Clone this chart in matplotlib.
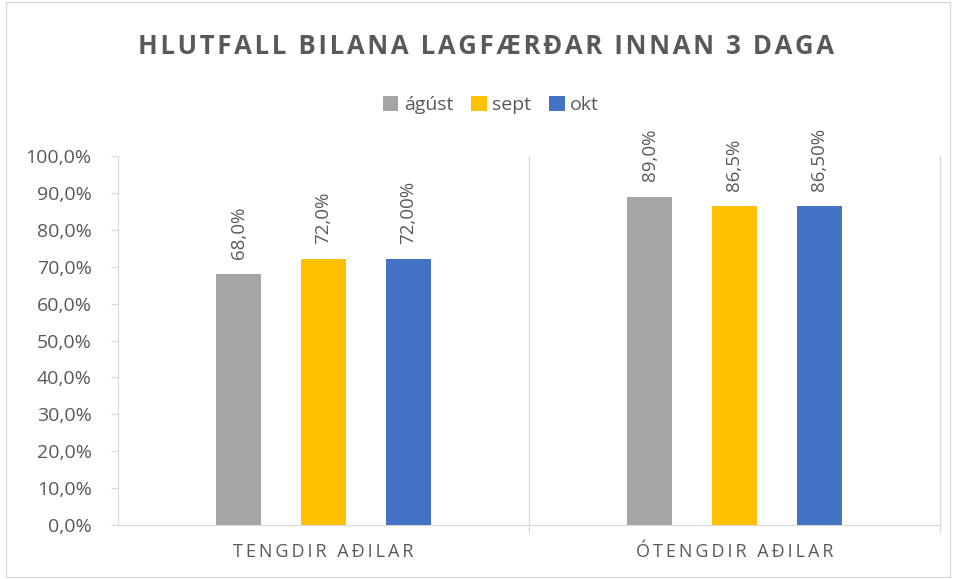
import matplotlib
matplotlib.use("Agg")
import matplotlib.pyplot as plt
from matplotlib.patches import Rectangle
import numpy as np

# data
categories = ["TENGDIR AÐILAR", "ÓTENGDIR AÐILAR"]
series = ["ágúst", "sept", "okt"]
agust = [68.0, 89.0]
sept = [72.0, 86.5]
okt = [72.0, 86.5]
value_labels = [["68,0%", "89,0%"], ["72,0%", "86,5%"], ["72,00%", "86,50%"]]
yticks = [0, 10, 20, 30, 40, 50, 60, 70, 80, 90, 100]
ytick_labels = ["0,0%", "10,0%", "20,0%", "30,0%", "40,0%", "50,0%",
                "60,0%", "70,0%", "80,0%", "90,0%", "100,0%"]

COLORS = ["#A5A5A5", "#FFC000", "#4472C4"]
TXT = "#595959"
LINE = "#D9D9D9"
FONT = ["Open Sans", "DejaVu Sans"]

def spaced(s, sep="\u200a"):
    return sep.join(s)

fig = plt.figure(figsize=(9.57, 5.79), dpi=100)
fig.patch.set_facecolor("white")
ax = fig.add_axes([118/957, 1-525/579, (940-118)/957, (525-156)/579])

x = np.arange(len(categories))
w = 0.11
step = 0.206
for i, (vals, col) in enumerate(zip([agust, sept, okt], COLORS)):
    bars = ax.bar(x + (i-1)*step, vals, width=w, color=col, label=series[i], zorder=3)
    for b, lab in zip(bars, value_labels[i]):
        ax.annotate(lab, (b.get_x() + b.get_width()/2, b.get_height()),
                    xytext=(0, 11), textcoords="offset points",
                    rotation=90, ha="center", va="bottom",
                    fontsize=13.5, color=TXT, family=FONT)

ax.set_xlim(-0.5, 1.5)
ax.set_ylim(0, 100)
ax.set_yticks(yticks)
ax.set_yticklabels(ytick_labels, fontsize=14, color=TXT, family=FONT)
ax.tick_params(axis="y", length=5, color=LINE, pad=14)
ax.set_xticks([0.5, 1.5], minor=False)
ax.set_xticklabels([])
ax.tick_params(axis="x", length=6, color=LINE)
for k in x:
    ax.text(k, -5.0, spaced(categories[k], "\u2009"), ha="center", va="top",
            fontsize=13, color=TXT, family=FONT)

for s in ["top", "right"]:
    ax.spines[s].set_visible(False)
ax.spines["left"].set_color(LINE)
ax.spines["bottom"].set_color(LINE)
ax.axvline(0.5, color=LINE, lw=1, zorder=1)
ax.axvline(1.5, color=LINE, lw=1, zorder=1, clip_on=False)

# title and legend
fig.text(486/957, 1-46/579, spaced("HLUTFALL BILANA LAGFÆRÐAR INNAN 3 DAGA"),
         ha="center", va="center", fontsize=18.5, fontweight="bold",
         color=TXT, family=FONT)
leg = fig.legend(loc="center", bbox_to_anchor=(491/957, 1-105/579), ncol=3,
                 frameon=False, fontsize=14, handlelength=0.8, handleheight=0.8,
                 handletextpad=0.3, columnspacing=0.9)
for t in leg.get_texts():
    t.set_color(TXT)
    t.set_family(FONT)

# chart border
fig.add_artist(Rectangle((6/957, 2/579), 944/957, 575/579, transform=fig.transFigure,
                         fill=False, edgecolor=LINE, lw=1))

fig.savefig("out.png", dpi=100)
